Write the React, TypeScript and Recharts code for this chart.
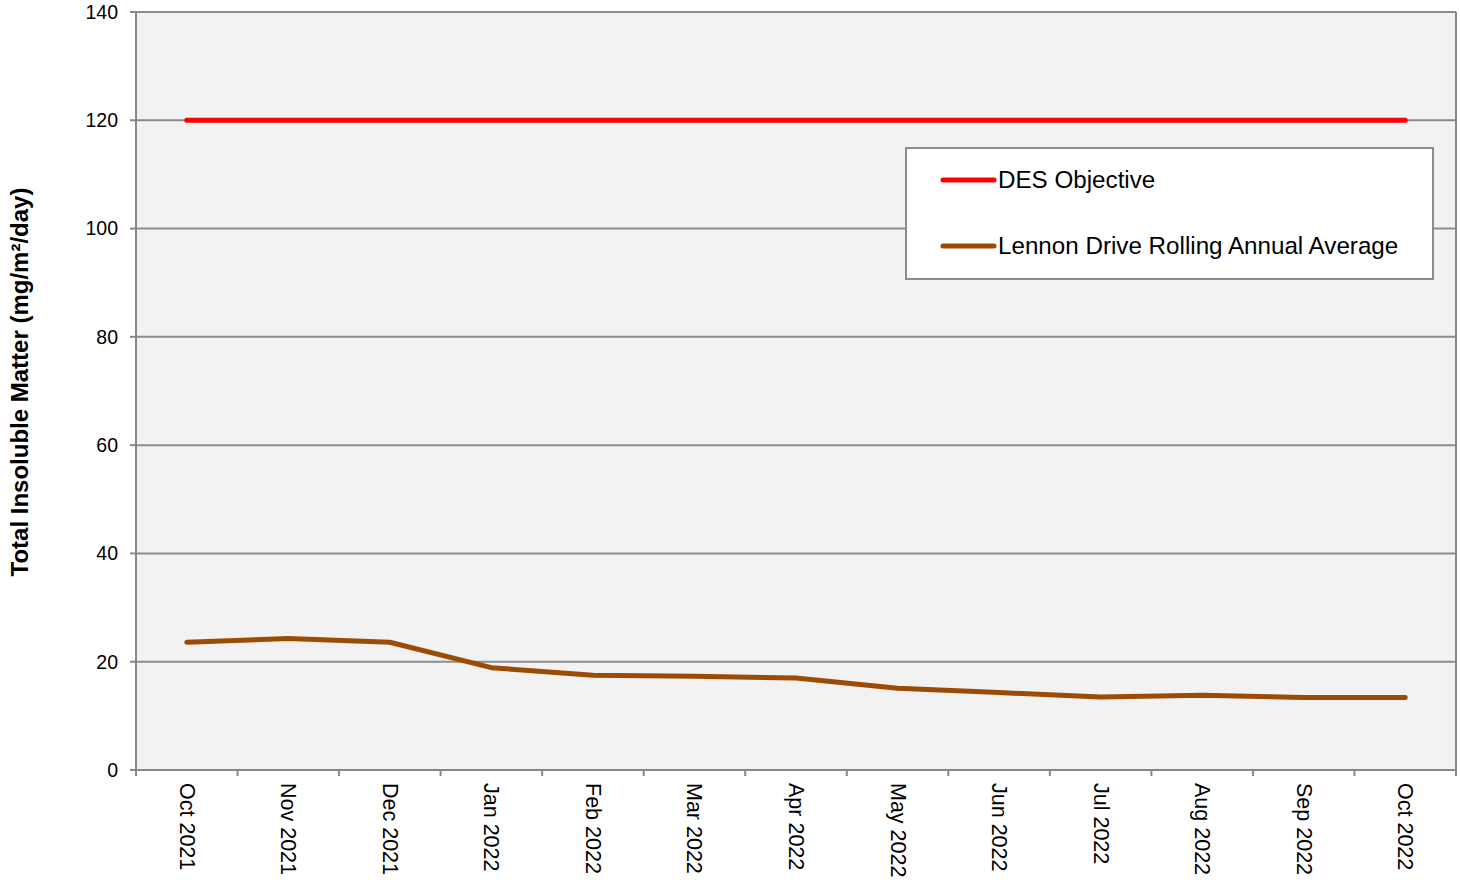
import React from 'react';
import { LineChart, Line, XAxis, YAxis, CartesianGrid, Legend } from 'recharts';

const months = ['Oct 2021', 'Nov 2021', 'Dec 2021', 'Jan 2022', 'Feb 2022', 'Mar 2022', 'Apr 2022',
  'May 2022', 'Jun 2022', 'Jul 2022', 'Aug 2022', 'Sep 2022', 'Oct 2022'];
const desObjective = [120, 120, 120, 120, 120, 120, 120, 120, 120, 120, 120, 120, 120];
const lennonAverage = [23.6, 24.3, 23.6, 18.9, 17.5, 17.3, 17.0, 15.1, 14.3, 13.5, 13.8, 13.4, 13.4];
const yTicks = [0, 20, 40, 60, 80, 100, 120, 140];

const seriesNames = ['DES Objective', 'Lennon Drive Rolling Annual Average'];
const seriesColors = ['#ff0000', '#9c4a04'];

const W = 1460;
const H = 880;
const Y_AXIS_W = 136;
const RIGHT_W = 4;
const BAND = (W - Y_AXIS_W - RIGHT_W) / months.length;
const FONT = '"Liberation Sans", Arial, sans-serif';
const AXIS_GREY = '#878787';

const data = months.map((m, i) => ({
  month: m,
  des: desObjective[i],
  lennon: lennonAverage[i],
}));

const MonthTick = (props: any) => {
  const { x, y, payload, index } = props;
  const axisY = y - 8;
  const left = x - BAND / 2;
  return (
    <g>
      <line x1={left} y1={axisY} x2={left} y2={axisY + 6} stroke={AXIS_GREY} strokeWidth={2} />
      {index === months.length - 1 && (
        <line x1={x + BAND / 2} y1={axisY} x2={x + BAND / 2} y2={axisY + 6} stroke={AXIS_GREY} strokeWidth={2} />
      )}
      <text
        transform={`translate(${x}, ${axisY + 13}) rotate(90)`}
        textAnchor="start"
        dominantBaseline="central"
        fontSize={21.5}
        fontFamily={FONT}
        fill="#000"
      >
        {payload.value}
      </text>
    </g>
  );
};

const YTitle = (props: any) => {
  const { viewBox } = props;
  const cx = viewBox.x + 19;
  const cy = viewBox.y + viewBox.height / 2 - 9;
  return (
    <text
      transform={`translate(${cx}, ${cy}) rotate(-90)`}
      textAnchor="middle"
      dominantBaseline="central"
      fontSize={24}
      fontWeight="bold"
      fontFamily={FONT}
      fill="#000"
    >
      Total Insoluble Matter (mg/m²/day)
    </text>
  );
};

const LegendBox = () => (
  <div
    style={{
      boxSizing: 'border-box',
      width: 529,
      height: 133,
      background: '#fff',
      border: '2px solid #8c8c8c',
      fontFamily: FONT,
      fontSize: 24.2,
      color: '#000',
      paddingTop: 15,
    }}
  >
    {seriesNames.map((name, i) => (
      <div key={name} style={{ display: 'flex', alignItems: 'center', height: 32, marginBottom: i === 0 ? 34 : 0 }}>
        <svg width={91} height={10} style={{ flexShrink: 0 }}>
          <line x1={36} y1={5} x2={87} y2={5} stroke={seriesColors[i]} strokeWidth={5} strokeLinecap="round" />
        </svg>
        <span style={{ whiteSpace: 'nowrap' }}>{name}</span>
      </div>
    ))}
  </div>
);

export default function App() {
  return (
    <div style={{ position: 'absolute', left: 0, top: 0, width: W, height: H, background: '#fff' }}>
      <LineChart width={W} height={H} data={data} margin={{ top: 12, right: 0, left: 0, bottom: 0 }}>
        <CartesianGrid vertical={false} fill="#f2f2f2" stroke="#8c8c8c" strokeWidth={2} />
        <XAxis
          dataKey="month"
          height={110}
          interval={0}
          padding={{ left: BAND / 2, right: BAND / 2 }}
          tickLine={false}
          tickSize={6}
          tickMargin={2}
          axisLine={{ stroke: AXIS_GREY, strokeWidth: 2 }}
          tick={<MonthTick />}
        />
        <YAxis
          width={Y_AXIS_W}
          domain={[0, 140]}
          ticks={yTicks}
          interval={0}
          tickSize={6}
          tickMargin={12}
          tickLine={{ stroke: AXIS_GREY, strokeWidth: 2 }}
          axisLine={{ stroke: AXIS_GREY, strokeWidth: 2 }}
          tick={{ fontSize: 19.5, fontFamily: FONT, fill: '#000' }}
          label={<YTitle />}
        />
        <YAxis
          yAxisId="frame"
          orientation="right"
          width={RIGHT_W}
          domain={[0, 140]}
          tick={false}
          tickLine={false}
          axisLine={{ stroke: AXIS_GREY, strokeWidth: 2 }}
        />
        <Legend
          layout="vertical"
          verticalAlign="middle"
          align="center"
          wrapperStyle={{ left: 905, top: 147, width: 529, height: 133 }}
          content={<LegendBox />}
        />
        <Line
          type="linear"
          dataKey="des"
          name={seriesNames[0]}
          stroke={seriesColors[0]}
          strokeWidth={5}
          strokeLinecap="round"
          dot={false}
          activeDot={false}
          isAnimationActive={false}
        />
        <Line
          type="linear"
          dataKey="lennon"
          name={seriesNames[1]}
          stroke={seriesColors[1]}
          strokeWidth={5}
          strokeLinecap="round"
          strokeLinejoin="round"
          dot={false}
          activeDot={false}
          isAnimationActive={false}
        />
      </LineChart>
    </div>
  );
}
